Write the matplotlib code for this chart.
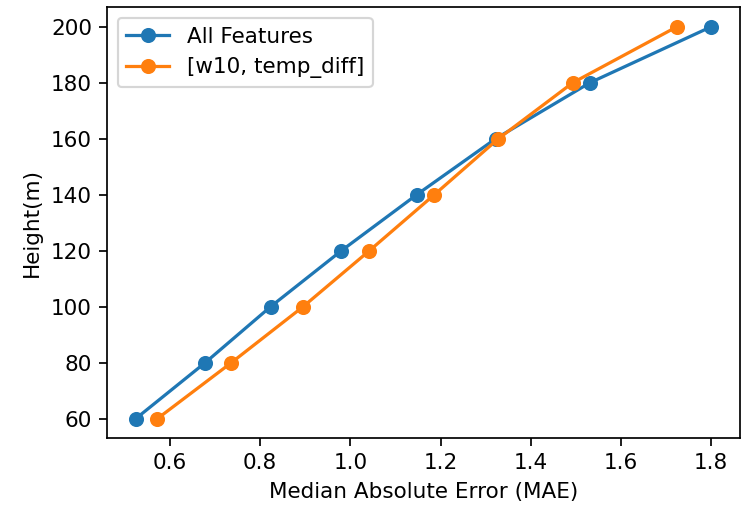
import matplotlib
matplotlib.use("Agg")
import matplotlib.pyplot as plt

heights = [60, 80, 100, 120, 140, 160, 180, 200]
mae_all = [0.524, 0.678, 0.823, 0.980, 1.147, 1.322, 1.531, 1.800]
mae_sub = [0.572, 0.736, 0.895, 1.042, 1.186, 1.328, 1.493, 1.724]
labels = ["All Features", "[w10, temp_diff]"]

DPI = 155
fig = plt.figure(figsize=(743 / DPI, 509 / DPI), dpi=DPI)
ax = fig.add_axes([0.144, 0.139, 0.852, 0.847])
ax.plot(mae_all, heights, marker='o', color='#1f77b4', label=labels[0])
ax.plot(mae_sub, heights, marker='o', color='#ff7f0e', label=labels[1])
ax.set_xlabel("Median Absolute Error (MAE)")
ax.set_ylabel("Height(m)")
ax.set_yticks([60, 80, 100, 120, 140, 160, 180, 200])
ax.legend(loc='upper left')
fig.savefig("out.png", dpi=DPI)
